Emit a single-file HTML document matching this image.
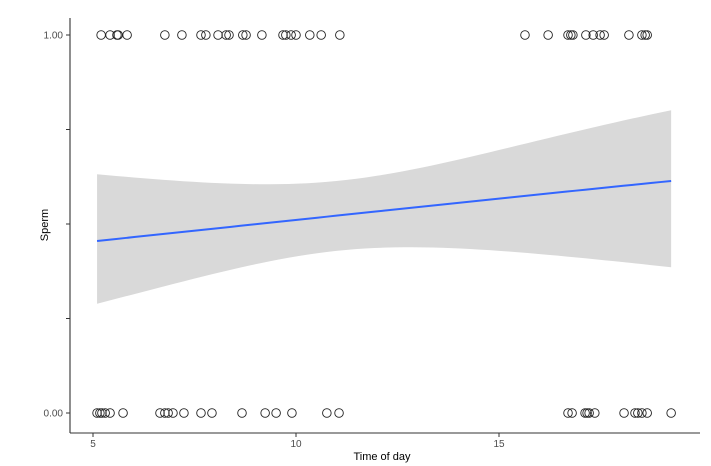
<!DOCTYPE html>
<html><head><meta charset="utf-8"><style>
body{margin:0;background:#fff;}
svg{display:block;font-family:"Liberation Sans",sans-serif;}
</style></head><body>
<svg id="chart" width="711" height="466"></svg>
<script>
const ones = [5.20,5.42,5.59,5.62,5.84,6.77,7.19,7.66,7.78,8.08,8.28,8.35,8.69,8.77,9.16,9.68,9.75,9.88,10.0,10.34,10.62,11.08,15.64,16.21,16.70,16.77,16.82,17.14,17.32,17.49,17.59,18.2,18.52,18.6,18.65];
const zeros = [5.10,5.17,5.22,5.30,5.42,5.74,6.65,6.77,6.85,6.97,7.24,7.66,7.93,8.67,9.24,9.51,9.90,10.76,11.06,16.70,16.80,17.12,17.17,17.22,17.36,18.08,18.35,18.42,18.52,18.65,19.24];
const xTicks = [5,10,15];
const yTicks = [0,0.25,0.5,0.75,1];
const yTickLabels = ["0.00","","","","1.00"];
const fitCoef = [-0.412, 0.0455];      // logit intercept, slope
const seParams = [0.1406, 0.01073, 11.03]; // s0^2, s1^2, centre
const xRange = [5.10, 19.24];

const NS="http://www.w3.org/2000/svg";
const svg=document.getElementById('chart');
const X=v=>93+(v-5)*40.6;
const Y=v=>413-v*378;
function mk(t,a,p){const e=document.createElementNS(NS,t);for(const k in a)e.setAttribute(k,a[k]);(p||svg).appendChild(e);return e;}
const inv=l=>1/(1+Math.exp(-l));
const eta=x=>fitCoef[0]+fitCoef[1]*x;
const se=x=>Math.sqrt(seParams[0]+seParams[1]*(x-seParams[2])**2);

// band
let up=[],lo=[],mid=[];
for(let i=0;i<=60;i++){const x=xRange[0]+(xRange[1]-xRange[0])*i/60;
 up.push(X(x)+','+Y(inv(eta(x)+1.96*se(x)/1.96*1)));
 lo.push(X(x)+','+Y(inv(eta(x)-se(x))));
 mid.push(X(x)+','+Y(inv(eta(x))));}
const band=mk('polygon',{points:up.concat(lo.reverse()).join(' '),fill:'#d9d9d9'});


const line=mk('polyline',{points:mid.join(' '),fill:'none',stroke:'#3366ff','stroke-width':2});



// points
for(const v of ones){const c=mk('circle',{cx:X(v),cy:Y(1),r:4.3,fill:'none',stroke:'#222','stroke-width':0.9});
 
 }
for(const v of zeros){const c=mk('circle',{cx:X(v),cy:Y(0),r:4.3,fill:'none',stroke:'#222','stroke-width':0.9});
 
 }

// axes
const xa=mk('line',{x1:70,y1:433,x2:700,y2:433,stroke:'#333','stroke-width':1.1});


const ya=mk('line',{x1:70,y1:18,x2:70,y2:433,stroke:'#333','stroke-width':1.1});


xTicks.forEach(t=>{mk('line',{x1:X(t),y1:433,x2:X(t),y2:437,stroke:'#333'});
 const l=mk('text',{x:X(t),y:447,'text-anchor':'middle','font-size':10,fill:'#4d4d4d'});l.textContent=t;
 
 });
yTicks.forEach((t,i)=>{mk('line',{x1:66,y1:Y(t),x2:70,y2:Y(t),stroke:'#333'});
 if(yTickLabels[i]){const l=mk('text',{x:63,y:Y(t)+3.5,'text-anchor':'end','font-size':10,fill:'#4d4d4d'});l.textContent=yTickLabels[i];
 
 }});
const xt=mk('text',{x:382,y:460,'text-anchor':'middle','font-size':11,fill:'#000'});xt.textContent='Time of day';


const yt=mk('text',{x:0,y:0,'text-anchor':'middle','font-size':11,fill:'#000',transform:'translate(48,225) rotate(-90)'});yt.textContent='Sperm';


</script>
</body></html>
